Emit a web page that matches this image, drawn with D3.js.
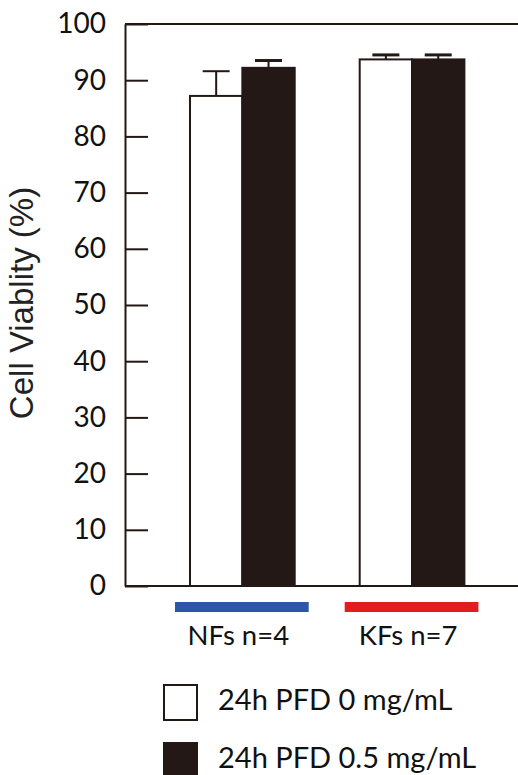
<!DOCTYPE html>
<html lang="en">
<head>
  <meta charset="UTF-8">
  <title>Cell Viability</title>
  <script src="https://d3js.org/d3.v7.min.js"></script>
  <style>
    body { margin: 0; background: #fff; }
  </style>
</head>
<body>
  <div id="root"></div>
  <script>
    // data
    const groups = ['NFs n=4', 'KFs n=7']
    const series = ['24h PFD 0 mg/mL', '24h PFD 0.5 mg/mL']
    const means = [[87.2, 92.2], [93.7, 93.7]]
    const errors = [[4.4, 1.3], [0.8, 0.8]]
    const yTicks = [0, 10, 20, 30, 40, 50, 60, 70, 80, 90, 100]
    const groupColors = ['#2b58a6', '#e31d1c']

    const width = 518
    const height = 775
    const ink = '#231815'
    const labelFont = 'Lato, "Open Sans", sans-serif'

    const svg = d3.select('#root')
      .append('svg')
      .attr('width', width)
      .attr('height', height)

    // scales
    const y = d3.scaleLinear().domain([0, 100]).range([586, 24])
    const x = d3.scaleBand().domain(groups).range([125, 529.4]).padding(0.383)
    const xInner = d3.scaleBand().domain(series).range([0, x.bandwidth()])

    // frame: top line and baseline
    svg.append('line')
      .attr('x1', 125).attr('x2', width)
      .attr('y1', y(100)).attr('y2', y(100))
      .attr('stroke', ink).attr('stroke-width', 2)
    svg.append('line')
      .attr('x1', 125).attr('x2', width)
      .attr('y1', y(0)).attr('y2', y(0))
      .attr('stroke', ink).attr('stroke-width', 2)

    // y axis, ticks pointing inwards
    const yAxis = d3.axisLeft(y)
      .tickValues(yTicks)
      .tickSizeInner(-23)
      .tickSizeOuter(0)
      .tickPadding(19)
    const yAxisG = svg.append('g')
      .attr('transform', 'translate(125,0)')
      .call(yAxis)
    yAxisG.select('.domain').attr('stroke', ink).attr('stroke-width', 2)
    yAxisG.selectAll('.tick line').attr('stroke', ink).attr('stroke-width', 2)
    yAxisG.selectAll('.tick text')
      .attr('fill', '#111')
      .attr('font-family', labelFont)
      .attr('font-size', 28)

    // axis title
    svg.append('text')
      .attr('transform', 'translate(33,303) rotate(-90)')
      .attr('text-anchor', 'middle')
      .attr('font-family', '"Liberation Sans", Arial, sans-serif')
      .attr('font-size', 33)
      .attr('fill', '#222')
      .text('Cell Viablity (%)')

    // bars
    const barData = []
    groups.forEach((g, gi) => {
      series.forEach((s, si) => {
        barData.push({group: g, series: s, si: si, value: means[gi][si], err: errors[gi][si]})
      })
    })

    const bars = svg.append('g')
    const cell = bars.selectAll('g.bar')
      .data(barData)
      .enter()
      .append('g')
      .attr('class', 'bar')
      .attr('transform', d => `translate(${x(d.group) + xInner(d.series)},0)`)

    // error bars (upper only)
    const bw = xInner.bandwidth()
    cell.append('line')
      .attr('x1', bw / 2).attr('x2', bw / 2)
      .attr('y1', d => y(d.value)).attr('y2', d => y(d.value + d.err))
      .attr('stroke', ink).attr('stroke-width', 2)
    cell.append('line')
      .attr('x1', bw / 2 - 13.5).attr('x2', bw / 2 + 13.5)
      .attr('y1', d => y(d.value + d.err)).attr('y2', d => y(d.value + d.err))
      .attr('stroke', ink).attr('stroke-width', d => d.group === groups[0] && d.si === 0 ? 2 : 3)

    cell.append('rect')
      .attr('x', 0)
      .attr('y', d => y(d.value))
      .attr('width', bw)
      .attr('height', d => y(0) - y(d.value))
      .attr('fill', d => d.si === 0 ? '#fff' : ink)
      .attr('stroke', ink)
      .attr('stroke-width', 2)

    // group bars and labels
    const groupG = svg.append('g')
    groupG.selectAll('rect')
      .data(groups)
      .enter()
      .append('rect')
      .attr('x', d => x(d) - 15)
      .attr('y', 602)
      .attr('width', x.bandwidth() + 29)
      .attr('height', 10)
      .attr('fill', (d, i) => groupColors[i])
    groupG.selectAll('text')
      .data(groups)
      .enter()
      .append('text')
      .attr('x', d => x(d) + x.bandwidth() / 2 - 4)
      .attr('y', 645)
      .attr('text-anchor', 'middle')
      .attr('font-family', labelFont)
      .attr('font-size', 27.5)
      .attr('fill', '#111')
      .text(d => d)

    // legend
    const legend = svg.append('g')
      .selectAll('g')
      .data(series)
      .enter()
      .append('g')
      .attr('transform', (d, i) => `translate(164,${685 + i * 58})`)
    legend.append('rect')
      .attr('width', 33)
      .attr('height', 35)
      .attr('fill', (d, i) => i === 0 ? '#fff' : ink)
      .attr('stroke', ink)
      .attr('stroke-width', 2)
    legend.append('text')
      .attr('x', 54)
      .attr('y', 25)
      .attr('font-family', labelFont)
      .attr('font-size', 29)
      .attr('fill', '#111')
      .text(d => d)
  </script>
</body>
</html>
